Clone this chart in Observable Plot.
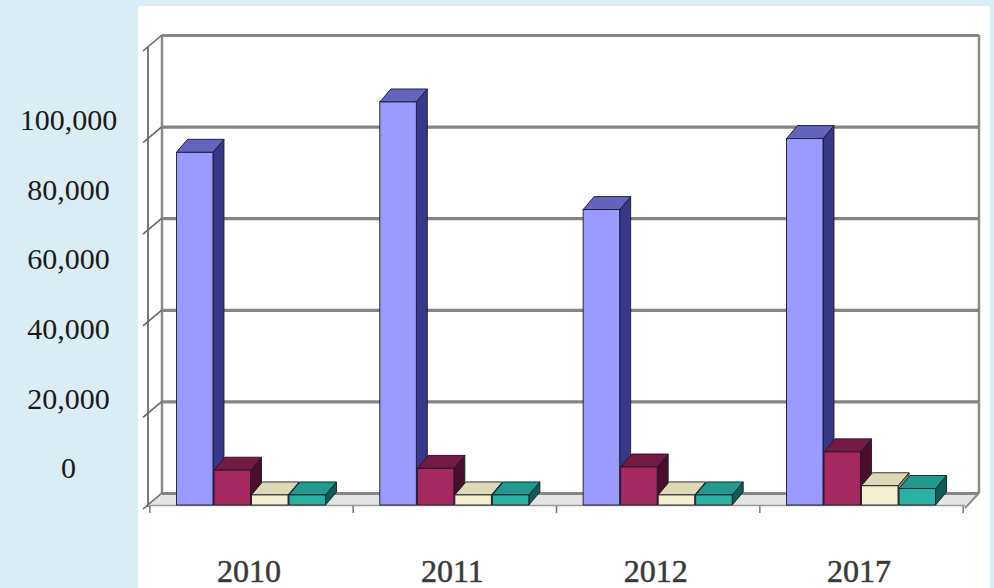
<!DOCTYPE html>
<html>
<head>
<meta charset="utf-8">
<script src="https://cdn.jsdelivr.net/npm/d3@7"></script>
<script src="https://cdn.jsdelivr.net/npm/@observablehq/plot@0.6"></script>
<style>
html, body { margin: 0; padding: 0; background: #daedf4; width: 994px; height: 588px; overflow: hidden; }
#wrap { position: relative; width: 994px; height: 588px; }
#axis { position: absolute; left: 0; top: 0; }
#chart { position: absolute; left: 138px; top: 6px; }
</style>
</head>
<body>
<div id="wrap"><div id="chart"></div><div id="axis"></div></div>
<script>
// ---- data ----
const years = ["2010", "2011", "2012", "2017"];
const series1 = [77000, 88000, 64500, 80000];
const series2 = [7600, 8000, 8300, 11600];
const series3 = [2200, 2200, 2200, 4200];
const series4 = [2200, 2200, 2200, 3600];
const yTicks = [0, 20000, 40000, 60000, 80000, 100000];

// ---- styling ----
const frontFill = ["#9a9aff", "#a52860", "#f3efcf", "#2bb0a6"];
const sideFill  = ["#38388a", "#4a0e2c", "#8c8862", "#0d5c57"];
const capFill   = ["#6464be", "#741a45", "#ddd8b6", "#22998c"];
const edge = "#1a1a28";

const allSeries = [series1, series2, series3, series4];
const rows = [];
allSeries.forEach((vals, s) => vals.forEach((v, i) => rows.push({year: years[i], s, value: v})));

// layout
const W = 852, H = 582;
const M = {left: 10, right: 25, top: 41, bottom: 83};
const padIn = 0.262, padOut = 0.14;
const step = (W - M.left - M.right) / (years.length - padIn + 2 * padOut);
const bw = step * (1 - padIn);
const slot = bw / allSeries.length;
const depth = {dx: 11, dy: -13};
const wall = {dx: 14, dy: -12};

function bw_(sx) { return typeof sx.bandwidth === "function" ? sx.bandwidth() : sx.bandwidth; }

// floor and wall edges (use the plot's scales)
function walls(index, scales, values, dim) {
  const sx = scales.x, sy = scales.y;
  const L = dim.marginLeft, R = dim.width - dim.marginRight;
  const y0 = sy(0), yTop = sy(d3.max(yTicks));
  const g = d3.create("svg:g");
  g.append("path")
    .attr("d", `M${L},${y0}L${L + wall.dx},${y0 + wall.dy}L${R + wall.dx},${y0 + wall.dy}L${R},${y0}Z`)
    .attr("fill", "#e3e3e3");
  g.append("line").attr("x1", L).attr("x2", L).attr("y1", yTop).attr("y2", y0 + 2)
    .attr("stroke", "#7a7a7a").attr("stroke-width", 2);
  g.append("line").attr("x1", L + wall.dx).attr("x2", L + wall.dx).attr("y1", yTop + wall.dy).attr("y2", y0 + wall.dy)
    .attr("stroke", "#8a8a8a").attr("stroke-width", 2.5);
  for (const t of yTicks) {
    const y = sy(t);
    g.append("line").attr("x1", L + wall.dx).attr("y1", y + wall.dy).attr("x2", L - 5).attr("y2", y + 4)
      .attr("stroke", "#666").attr("stroke-width", 1.6);
  }
  g.append("line").attr("x1", R + wall.dx).attr("x2", R + wall.dx).attr("y1", yTop + wall.dy).attr("y2", y0 + wall.dy)
    .attr("stroke", "#8a8a8a").attr("stroke-width", 2.5);
  g.append("line").attr("x1", R + wall.dx).attr("y1", y0 + wall.dy).attr("x2", R).attr("y2", y0 + 3)
    .attr("stroke", "#8a8a8a").attr("stroke-width", 2);
  const gap = (sx.step() - bw_(sx)) / 2;
  const bounds = years.map(y => sx(y) - gap).concat([sx(years[years.length - 1]) + bw_(sx) + gap]);
  for (const b of bounds) {
    g.append("line").attr("x1", b).attr("x2", b).attr("y1", y0).attr("y2", y0 + 8)
      .attr("stroke", "#777").attr("stroke-width", 1.5);
  }
  return g.node();
}

// side and top faces of the 3D columns of one series
function faces(s) {
  return (index, scales) => {
    const sx = scales.x, sy = scales.y;
    const sl = bw_(sx) / allSeries.length;
    const g = d3.create("svg:g");
    for (const r of rows.filter(r => r.s === s)) {
      const x0 = sx(r.year) + s * sl, x1 = x0 + sl - 1;
      const y0 = sy(0), y1 = sy(r.value);
      const {dx, dy} = depth;
      g.append("path")
        .attr("d", `M${x1},${y0}L${x1},${y1}L${x1 + dx},${y1 + dy}L${x1 + dx},${y0 + dy}Z`)
        .attr("fill", sideFill[s]).attr("stroke", edge).attr("stroke-width", 0.9);
      g.append("path")
        .attr("d", `M${x0},${y1}L${x0 + dx},${y1 + dy}L${x1 + dx},${y1 + dy}L${x1},${y1}Z`)
        .attr("fill", capFill[s]).attr("stroke", edge).attr("stroke-width", 0.9);
    }
    return g.node();
  };
}

const marks = [
  walls,
  Plot.ruleY(yTicks, {dx: wall.dx, dy: wall.dy, stroke: "#858585", strokeWidth: 3.2}),
  Plot.ruleY([0], {stroke: "#9a9a9a", strokeWidth: 1.5})
];
allSeries.forEach((vals, s) => {
  marks.push(faces(s));
  marks.push(Plot.barY(rows.filter(r => r.s === s), {
    x: "year", y: "value",
    fill: frontFill[s], stroke: edge, strokeWidth: 0.9,
    insetLeft: s * slot, insetRight: (allSeries.length - 1 - s) * slot + 1
  }));
});
marks.push(Plot.text(years, {
  x: d => d, frameAnchor: "bottom", dy: 66, dx: -3, lineAnchor: "middle",
  fontSize: 32, fontFamily: "Liberation Serif", fill: "#3a3a3a",
  stroke: "#555", strokeWidth: 0.6
}));

const chart = Plot.plot({
  width: W, height: H,
  marginLeft: M.left, marginRight: M.right, marginTop: M.top, marginBottom: M.bottom,
  style: {background: "white", overflow: "visible"},
  x: {domain: years, paddingInner: padIn, paddingOuter: padOut, round: false, axis: null},
  y: {domain: [0, d3.max(yTicks)], axis: null},
  marks
});
document.getElementById("chart").appendChild(chart);

const axisPlot = Plot.plot({
  width: 138, height: 588,
  marginLeft: 68, marginRight: 0, marginTop: 0, marginBottom: 0,
  style: {background: "transparent", overflow: "visible"},
  y: {domain: [0, d3.max(yTicks)], range: [468, 120], axis: null},
  marks: [
    Plot.axisY(yTicks, {
      anchor: "left", tickSize: 0, tickPadding: 0, tickFormat: d3.format(","),
      textAnchor: "middle", fontSize: 30, fontFamily: "Liberation Serif", fill: "#1a1a1a", label: null
    })
  ]
});
document.getElementById("axis").appendChild(axisPlot);
</script>
</body>
</html>
